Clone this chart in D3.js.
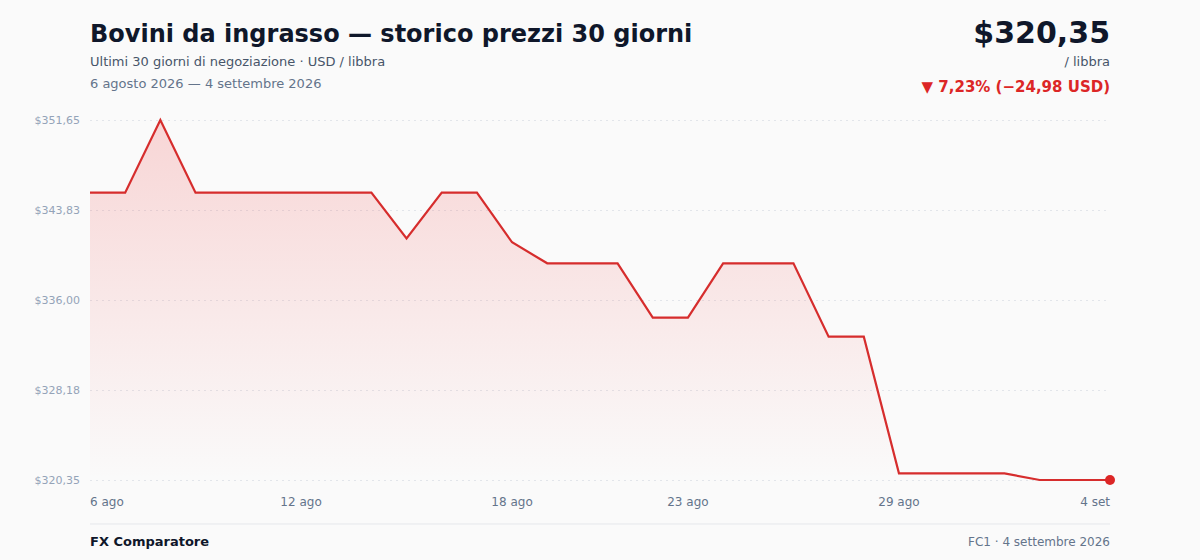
<!DOCTYPE html>
<html>
<head>
<meta charset="utf-8">
<script src="https://cdn.jsdelivr.net/npm/d3@7"></script>
<style>
  body { margin: 0; background: #fafafa; font-family: "DejaVu Sans", sans-serif; }
</style>
</head>
<body>
<svg id="chart" width="1200" height="560"></svg>
<script>
// daily dates, 6 agosto -> 4 settembre 2026
const dates = d3.timeDay.range(new Date(2026, 7, 6), new Date(2026, 8, 5));
const prices = [
  345.33, 345.33, 351.65, 345.33, 345.33, 345.33, 345.33, 345.33, 345.33, 341.36,
  345.33, 345.33, 341.02, 339.19, 339.19, 339.19, 334.46, 334.46, 339.19, 339.19,
  339.19, 332.81, 332.81, 320.93, 320.93, 320.93, 320.93, 320.35, 320.35, 320.35
];
const xTickDates = [
  new Date(2026, 7, 6), new Date(2026, 7, 12), new Date(2026, 7, 18),
  new Date(2026, 7, 23), new Date(2026, 7, 29), new Date(2026, 8, 4)
];
const monthsShort = ["gen","feb","mar","apr","mag","giu","lug","ago","set","ott","nov","dic"];

const svg = d3.select("#chart");
const m = {left: 90, right: 90, top: 120, bottom: 80};
const W = 1200, H = 560;

const data = dates.map((d, i) => ({date: d, v: prices[i]}));
const lo = d3.min(prices), hi = d3.max(prices);

const x = d3.scaleTime().domain(d3.extent(dates)).range([m.left, W - m.right]);
const y = d3.scaleLinear().domain([lo, hi]).range([H - m.bottom, m.top]);

const num = v => (Math.round(v * 100 + 1e-6) / 100).toFixed(2).replace(".", ",");
const fmt = v => "$" + num(v);

// header
svg.append("text").attr("x", 90).attr("y", 42)
  .attr("font-size", 24).attr("font-weight", "bold").attr("fill", "#0f172a")
  .text("Bovini da ingrasso — storico prezzi 30 giorni");
svg.append("text").attr("x", 90).attr("y", 66)
  .attr("font-size", 13).attr("fill", "#475569")
  .text("Ultimi 30 giorni di negoziazione · USD / libbra");
svg.append("text").attr("x", 90).attr("y", 88)
  .attr("font-size", 13).attr("fill", "#64748b")
  .text("6 agosto 2026 — 4 settembre 2026");

const last = prices[prices.length - 1], first = prices[0];
const diff = last - first, pct = diff / first * 100;
svg.append("text").attr("x", 1110).attr("y", 43).attr("text-anchor", "end")
  .attr("font-size", 30).attr("font-weight", "bold").attr("fill", "#0f172a")
  .text(fmt(last));
svg.append("text").attr("x", 1110).attr("y", 66).attr("text-anchor", "end")
  .attr("font-size", 13).attr("fill", "#475569").text("/ libbra");
svg.append("text").attr("x", 1110).attr("y", 92).attr("text-anchor", "end")
  .attr("font-size", 15).attr("font-weight", "bold").attr("fill", "#dc2626")
  .text("▼ " + num(Math.abs(pct)) + "% (−" + num(Math.abs(diff)) + " USD)");

// grid + y labels
const yTicks = d3.range(5).map(i => lo + (hi - lo) * i / 4);
const yAxis = svg.append("g").attr("transform", `translate(${m.left},0)`)
  .call(d3.axisLeft(y).tickValues(yTicks).tickFormat(fmt)
    .tickSize(-(W - m.left - m.right)).tickPadding(10));
yAxis.select(".domain").remove();
yAxis.selectAll("line").attr("stroke", "#e2e5ea").attr("stroke-dasharray", "2,4");
yAxis.selectAll("text").attr("font-size", 11).attr("fill", "#94a3b8")
  .attr("font-family", "DejaVu Sans, sans-serif");

// gradient area
const defs = svg.append("defs");
const grad = defs.append("linearGradient").attr("id", "fillGrad")
  .attr("x1", 0).attr("y1", 0).attr("x2", 0).attr("y2", 1);
grad.append("stop").attr("offset", "0%").attr("stop-color", "#ef4444").attr("stop-opacity", 0.2);
grad.append("stop").attr("offset", "100%").attr("stop-color", "#ef4444").attr("stop-opacity", 0);

const area = d3.area().x(d => x(d.date)).y0(y(lo)).y1(d => y(d.v));
svg.append("path").datum(data).attr("d", area).attr("fill", "url(#fillGrad)");

const line = d3.line().x(d => x(d.date)).y(d => y(d.v));
svg.append("path").datum(data).attr("d", line)
  .attr("fill", "none").attr("stroke", "#d62d2d").attr("stroke-width", 2.2)
  .attr("stroke-linejoin", "miter");

svg.append("circle").attr("cx", x(dates[dates.length - 1])).attr("cy", y(last))
  .attr("r", 5).attr("fill", "#dc2626");

// x labels
svg.selectAll(".xl").data(xTickDates).join("text")
  .attr("class", "xl")
  .attr("x", d => x(d)).attr("y", 506)
  .attr("text-anchor", (d, i) => i === 0 ? "start" : (i === xTickDates.length - 1 ? "end" : "middle"))
  .attr("font-size", 12).attr("fill", "#64748b")
  .text(d => d.getDate() + " " + monthsShort[d.getMonth()]);

// footer
svg.append("line").attr("x1", 90).attr("x2", 1110).attr("y1", 524).attr("y2", 524)
  .attr("stroke", "#e5e7eb").attr("stroke-width", 1);
svg.append("text").attr("x", 90).attr("y", 546)
  .attr("font-size", 13).attr("font-weight", "bold").attr("fill", "#0f172a")
  .text("FX Comparatore");
svg.append("text").attr("x", 1110).attr("y", 546).attr("text-anchor", "end")
  .attr("font-size", 12).attr("fill", "#64748b")
  .text("FC1 · 4 settembre 2026");
</script>
</body>
</html>
